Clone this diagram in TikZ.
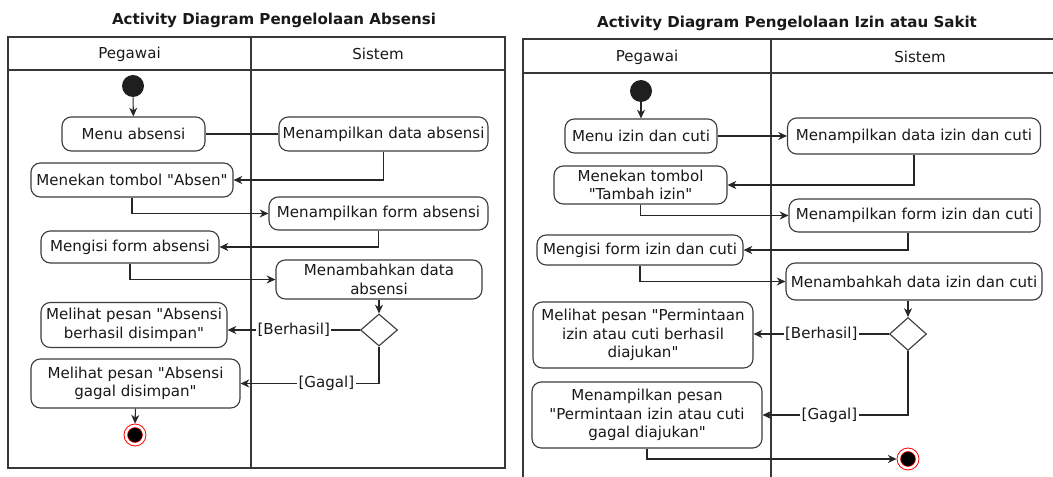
\documentclass[tikz,border=0pt]{standalone}
\usepackage{fontspec}
\setmainfont{DejaVu Sans}[Ligatures=TeXOff]
\usetikzlibrary{shapes.geometric,arrows.meta}
\definecolor{lineclr}{HTML}{262626}
\definecolor{boxclr}{HTML}{3C3C3C}
\newcommand{\dq}{"}
\begin{document}
\begin{tikzpicture}[x=0.75pt,y=-0.75pt,
  every node/.style={font=\fontsize{11.3}{14}\selectfont, text=black!90},
  sz/.style 2 args={minimum width=#1*0.75pt, minimum height=#2*0.75pt},
  act/.style={draw=boxclr, line width=0.85pt, rounded corners=7pt, align=center, inner sep=1pt, fill=white},
  dec/.style={draw=boxclr, line width=0.85pt, diamond, inner sep=0pt, fill=white},
  startnode/.style={circle, fill=black!88, minimum size=16.5pt, inner sep=0pt},
  endouter/.style={circle, draw=red, fill=white, line width=0.6pt, minimum size=16.5pt, inner sep=0pt},
  conn/.style={draw=lineclr, line width=0.8pt},
  arr/.style={conn, -{Stealth[length=6.5pt,width=6pt,inset=2pt]}},
  guard/.style={fill=white, inner sep=1pt},
  lane/.style={draw=black!78, line width=0.85pt},
  ttl/.style={font=\fontsize{11.3}{14}\selectfont\bfseries}
]
\useasboundingbox (0,0) rectangle (1053,477);
\clip (0,0) rectangle (1053,477);

% ================= LEFT DIAGRAM =================
\node[ttl] (t1) at (274,20) {Activity Diagram Pengelolaan Absensi};
\draw[lane] (8,37) rectangle (505,468);
\draw[lane] (8,70) -- (505,70);
\draw[lane] (251,37) -- (251,468);
\node (h1a) at (129.5,54) {Pegawai};
\node (h1b) at (378,54) {Sistem};

\node[startnode] (iA) at (133,86) {};
\node[act, sz={143}{34}] (mA) at (133.5,134) {Menu absensi};
\node[act, sz={209}{34}] (sA) at (383.5,134) {Menampilkan data absensi};
\node[act, sz={202}{34}] (mB) at (132,180) {Menekan tombol \dq Absen\dq};
\node[act, sz={219}{33}] (sB) at (378.5,213.5) {Menampilkan form absensi};
\node[act, sz={178}{32}] (mC) at (130,247) {Mengisi form absensi};
\node[act, sz={206}{39}] (sC) at (379,279.5) {Menambahkan data\\absensi};
\node[dec, sz={37}{32}] (dA) at (379,330) {};
\node[act, sz={186}{45}] (mD) at (134,325) {Melihat pesan \dq Absensi\\berhasil disimpan\dq};
\node[act, sz={209}{49}] (mE) at (135.5,383.5) {Melihat pesan \dq Absensi\\gagal disimpan\dq};
\node[endouter] (fA) at (135,435) {};
\fill[black] (fA) circle (5.6pt);
\draw[red, line width=0.4pt] (fA) circle (5.6pt);

\draw[arr] (iA) -- (mA);
\draw[conn] (mA.east) -- (sA.west);
\draw[arr] (sA.south) |- (mB.east);
\draw[arr] (mB.south) |- (sB.west);
\draw[arr] (sB.south) |- (mC.east);
\draw[arr] (mC.south) |- (sC.west);
\draw[arr] (sC.south) -- (dA.north);
\draw[arr] (dA.west) -- node[guard] (gA1) {[Berhasil]} (dA.west -| mD.east);
\draw[arr] (dA.south) |- node[guard, pos=0.69] (gA2) {[Gagal]} (mE.east);
\draw[arr] (mE.south) -- (fA.north);

% ================= RIGHT DIAGRAM =================
\node[ttl] (t2) at (787,23) {Activity Diagram Pengelolaan Izin atau Sakit};
\draw[lane] (523,39) rectangle (1070,500);
\draw[lane] (523,73) -- (1070,73);
\draw[lane] (771,39) -- (771,500);
\node (h2a) at (647,57) {Pegawai};
\node (h2b) at (920,57) {Sistem};

\node[startnode] (iB) at (641,91) {};
\node[act, sz={152}{34}] (mF) at (641,136) {Menu izin dan cuti};
\node[act, sz={253}{36}] (sF) at (914,136) {Menampilkan data izin dan cuti};
\node[act, sz={173}{38}] (mG) at (640.5,185) {Menekan tombol\\\dq Tambah izin\dq};
\node[act, sz={251}{33}] (sG) at (914.5,215.5) {Menampilkan form izin dan cuti};
\node[act, sz={206}{30}] (mH) at (640,250) {Mengisi form izin dan cuti};
\node[act, sz={256}{37}] (sH) at (914,281.5) {Menambahkah data izin dan cuti};
\node[dec, sz={37}{33}] (dB) at (908,334) {};
\node[act, sz={220}{66}] (mI) at (643,335) {Melihat pesan \dq Permintaan\\izin atau cuti berhasil\\diajukan\dq};
\node[act, sz={230}{66}] (mJ) at (647,415) {Menampilkan pesan\\\dq Permintaan izin atau cuti\\gagal diajukan\dq};
\node[endouter] (fB) at (908,459) {};
\fill[black] (fB) circle (5.6pt);
\draw[red, line width=0.4pt] (fB) circle (5.6pt);

\draw[arr] (iB) -- (mF);
\draw[arr] (mF.east) -- (sF.west);
\draw[arr] (sF.south) |- (mG.east);
\draw[arr] (mG.south) |- (sG.west);
\draw[arr] (sG.south -| dB.north) |- (mH.east);
\draw[arr] (mH.south) |- (sH.west);
\draw[arr] (sH.south -| dB.north) -- (dB.north);
\draw[arr] (dB.west) -- node[guard] (gB1) {[Berhasil]} (dB.west -| mI.east);
\draw[arr] (dB.south) |- node[guard, pos=0.77] (gB2) {[Gagal]} (mJ.east);
\draw[arr] (mJ.south) |- (fB.west);
\end{tikzpicture}
\end{document}
